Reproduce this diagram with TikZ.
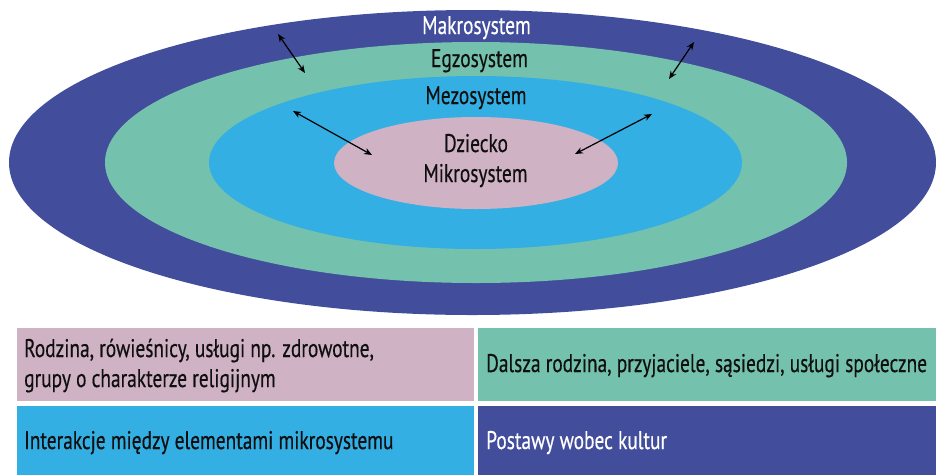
\documentclass[tikz,border=0pt]{standalone}
\usepackage{fontspec}
\setmainfont[FakeStretch=0.76,FakeBold=0.4]{PT Sans}
\usetikzlibrary{shapes.geometric,arrows.meta}
\definecolor{cmakro}{RGB}{66,77,155}
\definecolor{cegzo}{RGB}{116,194,173}
\definecolor{cmezo}{RGB}{52,175,228}
\definecolor{cmikro}{RGB}{208,178,197}
\definecolor{ctext}{RGB}{15,15,15}
\begin{document}
\begin{tikzpicture}[x=1pt,y=-1pt,
  ring/.style={ellipse,inner sep=0pt,draw=none},
  lbl/.style={font=\fontsize{25.5}{28}\selectfont,text=ctext,anchor=base,inner sep=0pt},
  btxt/.style={font=\fontsize{25.5}{28}\selectfont,text=ctext,anchor=base west,inner sep=0pt},
  box/.style={rectangle,inner sep=0pt,draw=none,anchor=north west},
  arr/.style={line width=1.2pt,{Stealth[length=8pt,width=6.5pt]}-{Stealth[length=8pt,width=6.5pt]}}]
\useasboundingbox (0,0) rectangle (936,475);
\node[ring,fill=cmakro,minimum width=927pt,minimum height=305pt] (makro) at (472.5,162.5) {};
\node[ring,fill=cegzo,minimum width=742pt,minimum height=241pt] (egzo) at (476,162.5) {};
\node[ring,fill=cmezo,minimum width=533pt,minimum height=173pt] (mezo) at (475.5,162.5) {};
\node[ring,fill=cmikro,minimum width=284pt,minimum height=92pt] (mikro) at (476,163) {};
\node[lbl,text=white] (tmakro) at (476.5,34) {Makrosystem};
\node[lbl] (tegzo) at (479.5,67) {Egzosystem};
\node[lbl] (tmezo) at (476,104) {Mezosystem};
\node[lbl] (tdz) at (476,152) {Dziecko};
\node[lbl] (tmik) at (475.5,182) {Mikrosystem};
\coordinate (a1s) at (278,34); \coordinate (a1e) at (305,73);
\coordinate (a2s) at (694,42); \coordinate (a2e) at (669,79);
\coordinate (a3s) at (293,111); \coordinate (a3e) at (372,155);
\coordinate (a4s) at (652,114); \coordinate (a4e) at (575,154);
\draw[arr] (a1s) -- (a1e);
\draw[arr] (a2s) -- (a2e);
\draw[arr] (a3s) -- (a3e);
\draw[arr] (a4s) -- (a4e);
\node[box,fill=cmikro,minimum width=457pt,minimum height=73pt] (b1) at (17,328) {};
\node[box,fill=cegzo,minimum width=458pt,minimum height=73pt] (b2) at (478,328) {};
\node[box,fill=cmezo,minimum width=457pt,minimum height=69pt] (b3) at (17,406) {};
\node[box,fill=cmakro,minimum width=458pt,minimum height=69pt] (b4) at (478,406) {};
\node[btxt] (t1a) at (24,357) {Rodzina, rówieśnicy, usługi np. zdrowotne,};
\node[btxt] (t1b) at (24,387) {grupy o charakterze religijnym};
\node[btxt] (t2) at (486,372) {Dalsza rodzina, przyjaciele, sąsiedzi, usługi społeczne};
\node[btxt] (t3) at (24,449) {Interakcje między elementami mikrosystemu};
\node[btxt,text=white] (t4) at (486,449) {Postawy wobec kultur};
\end{tikzpicture}
\end{document}
